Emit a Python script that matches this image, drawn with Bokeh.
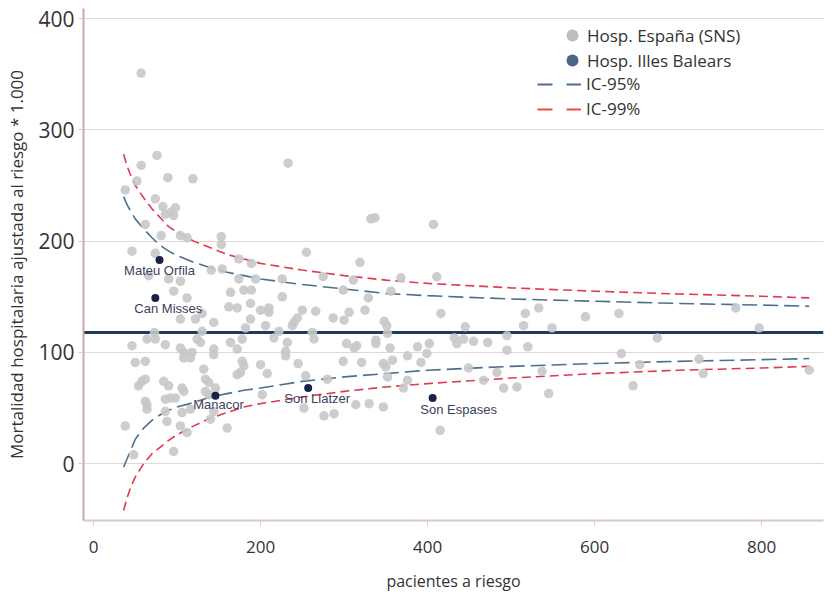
from bokeh.plotting import figure
from bokeh.models import Range1d, Legend, LegendItem, FixedTicker
from bokeh.core.properties import value
from bokeh.embed import file_html
from bokeh.resources import INLINE

# ---------------- data ----------------
sns_patients = [
    57, 76, 57, 89, 119, 52, 38, 74, 83, 98, 93, 86, 96, 62, 81, 104, 112, 46, 74, 66, 90, 104, 96, 112,
    233, 153, 153, 255, 174, 189, 141, 154, 174, 194, 226, 275, 164, 180, 189, 226,
    162, 172, 188, 130, 200, 210, 210, 250, 266, 144, 188, 244, 240, 238, 206, 182, 130, 222, 262, 264,
    178, 216, 164, 232, 144, 144, 172, 230, 230, 132, 178, 180, 176, 172, 200, 208, 245, 134, 138, 146,
    134, 138, 254, 280, 202, 252, 276, 144, 140, 160,
    73, 64, 74, 86, 46, 104, 108, 118, 108, 50, 62, 58, 62, 84, 90, 106, 108, 62, 64, 86,
    92, 98, 64, 86, 88, 38, 104, 112, 48, 96,
    104, 122, 124, 128, 116, 54, 106, 116,
    332, 337, 407, 319, 311, 368, 411, 299, 356, 329, 325, 306, 300, 287, 416, 348, 351, 352, 445, 517,
    515, 533, 549, 495, 303, 312, 315, 338, 338, 355, 388, 402, 432, 435, 443, 455, 472, 495, 520, 399,
    376, 392, 299, 321, 347, 350, 358, 352, 376, 371, 449, 483, 467, 491, 507, 537, 545, 288, 314, 330,
    347, 415,
    589, 629, 769, 797, 675, 632, 654, 725, 730, 646, 857,
]
sns_mortality = [
    351, 277, 268, 257, 256, 254, 246, 238, 231, 230, 226, 224, 223, 215, 205, 205, 203, 191, 189, 169, 166, 164, 155, 149,
    270, 204, 197, 190, 184, 180, 174, 175, 166, 166, 166, 168, 154, 156, 156, 150,
    141, 140, 144, 135, 138, 140, 136, 138, 137, 127, 130, 131, 127, 124, 124, 122, 119, 119, 118, 112,
    112, 113, 109, 109, 103, 98, 103, 101, 97, 85, 92, 88, 82, 80, 89, 81, 90, 76, 73, 68,
    65, 62, 79, 76, 62, 50, 43, 47, 40, 32,
    118, 112, 112, 107, 106, 104, 100, 100, 95, 91, 92, 74, 76, 74, 70, 68, 65, 56, 53, 58,
    59, 59, 49, 47, 38, 34, 34, 28, 8, 11,
    130, 130, 112, 109, 95, 70, 46, 49,
    220, 221, 215, 181, 165, 167, 168, 156, 155, 149, 138, 136, 129, 131, 135, 128, 124, 117, 123, 135,
    124, 140, 122, 115, 108, 104, 106, 111, 108, 104, 105, 108, 113, 108, 112, 110, 109, 102, 105, 99,
    97, 91, 92, 91, 90, 87, 93, 78, 75, 68, 86, 82, 75, 68, 69, 83, 63, 45, 53, 54,
    51, 30,
    132, 135, 140, 122, 113, 99, 89, 94, 81, 70, 84,
]

bal_names = ["Mateu Orfila", "Can Misses", "Manacor", "Son Llatzer", "Son Espases"]
bal_patients = [79, 74, 146, 257, 406]
bal_mortality = [183, 149, 61, 68, 59]

mean_rate = 118

ci_patients = [36, 40, 45, 50, 60, 70, 80, 90, 100, 120, 140, 160, 180, 200, 250, 300, 350, 400, 500, 600, 700, 800, 857]
ci95_upper = [240, 233, 226, 220, 211, 203, 196, 191, 187, 181, 176, 172, 169, 166, 161, 157, 153, 151, 148, 146, 144, 142.5, 141.5]
ci95_lower = [-3, 4, 13, 22, 32, 39, 44, 48, 51, 55, 60, 63, 66, 68, 74, 78, 81, 84, 87.5, 90, 92, 93.5, 94.5]
ci99_upper = [278, 268, 258, 250, 239, 229, 221, 213, 208, 200, 194, 188, 184, 180, 174, 169, 165, 162, 158, 155, 152.5, 150.5, 149]
ci99_lower = [-42, -31, -20, -12, 0, 9, 15, 21, 26, 34, 41, 46, 51, 54, 60, 65, 69, 72, 77, 81, 84, 86, 87.5]

x_ticks = [0, 200, 400, 600, 800]
y_ticks = [0, 100, 200, 300, 400]

x_title = "pacientes a riesgo"
y_title = "Mortalidad hospitalaria ajustada al riesgo * 1.000"
legend_labels = ["Hosp. España (SNS)", "Hosp. Illes Balears", "IC-95%", "IC-99%"]

# label placement (screen px offsets from each hospital's dot)
label_dx = [0, 13, 3, 9, 26]
label_dy = [10, 11, 9, 10, 11]

NAN = float("nan")

# ---------------- styles ----------------
C_GRAY = "#c8c8c8"
C_NAVY = "#1a2148"
C_BLUE = "#4d6f8f"
C_RED = "#df3a4f"
C_MEAN = "#1f3a63"
FONT = "Open Sans"

p = figure(width=832, height=597, output_backend="svg", toolbar_location=None,
           x_range=Range1d(-12, 874), y_range=Range1d(-51, 409),
           min_border_left=83, min_border_right=9, min_border_top=8, min_border_bottom=77)
p.outline_line_color = None
p.background_fill_color = "white"
p.border_fill_color = "white"

p.xgrid.visible = False
p.ygrid.ticker = FixedTicker(ticks=y_ticks)
p.ygrid.grid_line_color = "#e3d6da"
p.ygrid.grid_line_width = 1.2

p.xaxis.ticker = FixedTicker(ticks=x_ticks)
p.yaxis.ticker = FixedTicker(ticks=y_ticks)

for ax in (p.xaxis[0], p.yaxis[0]):
    ax.minor_tick_line_color = None
    ax.major_tick_in = 0
    ax.major_tick_out = 5
    ax.major_tick_line_color = "#d8cbcf"
    ax.major_label_text_font = FONT
    ax.major_label_text_color = "#333333"
    ax.axis_label_text_font = FONT
    ax.axis_label_text_font_style = "normal"
    ax.axis_label_text_color = "#333333"

p.yaxis.axis_line_color = "#cfa6ae"
p.yaxis.axis_line_width = 2
p.yaxis.major_label_text_font_size = "21px"
p.yaxis.major_label_standoff = 4
p.yaxis.axis_label = y_title
p.yaxis.axis_label_text_font_size = "17px"
p.yaxis.axis_label_standoff = 7

p.xaxis.axis_line_color = "#d8c6cb"
p.xaxis.axis_line_width = 2
p.xaxis.major_label_text_font_size = "17px"
p.xaxis.major_label_standoff = 15
p.xaxis.axis_label = x_title
p.xaxis.axis_label_text_font_size = "16px"
p.xaxis.axis_label_standoff = 14

# funnel limits
p.line(ci_patients, ci99_upper, line_color=C_RED, line_width=1.6, line_dash="9 5")
p.line(ci_patients, ci99_lower, line_color=C_RED, line_width=1.6, line_dash="9 5")
p.line(ci_patients, ci95_upper, line_color=C_BLUE, line_width=1.6, line_dash="15 6")
p.line(ci_patients, ci95_lower, line_color=C_BLUE, line_width=1.6, line_dash="15 6")

# national mean
p.hspan(y=[mean_rate], line_color=C_MEAN, line_width=3)

# hospitals
p.scatter(sns_patients, sns_mortality, size=9.5, fill_color=C_GRAY, line_color=None, fill_alpha=0.9)
p.scatter(bal_patients, bal_mortality, size=8, fill_color=C_NAVY, line_color=None)
p.text(x=bal_patients, y=bal_mortality, text=bal_names, x_offset=label_dx, y_offset=label_dy,
       text_font=value("Liberation Sans"), text_font_size="13px", text_color="#3b4160",
       text_align="center", text_baseline="middle")

# legend proxies (not drawn in the plot area)
r_g = p.scatter([NAN], [NAN], fill_color="#bebebe", line_color=None)
r_b = p.scatter([NAN], [NAN], fill_color="#4a6585", line_color=None)
r_95 = p.line([NAN, NAN], [NAN, NAN], line_color=C_BLUE, line_width=2, line_dash="15 14")
r_99 = p.line([NAN, NAN], [NAN, NAN], line_color="#e9503f", line_width=2, line_dash="15 14")

common = dict(padding=0, margin=0, border_line_alpha=0, background_fill_alpha=0,
              label_text_font=FONT, label_text_font_size="17px", label_text_color="#333333")
leg_a = Legend(items=[LegendItem(label=legend_labels[0], renderers=[r_g])],
               location=(474, 470), glyph_width=30, glyph_height=30, label_height=20,
               label_standoff=0, **common)
leg_b = Legend(items=[LegendItem(label=legend_labels[1], renderers=[r_b])],
               location=(474, 445), glyph_width=30, glyph_height=30, label_height=20,
               label_standoff=0, **common)
leg_c = Legend(items=[LegendItem(label=legend_labels[2], renderers=[r_95]),
                      LegendItem(label=legend_labels[3], renderers=[r_99])],
               location=(454, 400), glyph_width=44, glyph_height=20, label_height=20,
               spacing=2, label_standoff=5, **common)
for lg in (leg_a, leg_b, leg_c):
    p.add_layout(lg)

open("out.html", "w").write(file_html(p, INLINE))
